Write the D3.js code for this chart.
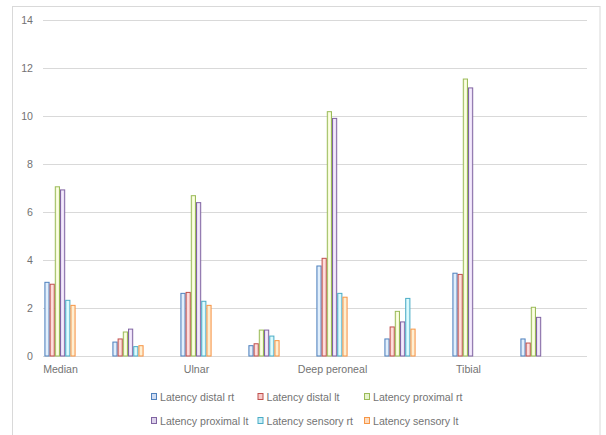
<!DOCTYPE html>
<html>
<head>
<meta charset="utf-8">
<script src="https://cdn.jsdelivr.net/npm/d3@7"></script>
<style>
  html, body { margin: 0; padding: 0; background: #fff; }
  svg { display: block; }
  text { font-family: "Liberation Sans", Arial, sans-serif; fill: #737373; }
</style>
</head>
<body>
<svg id="chart" width="606" height="435"></svg>
<script>
// ---- data ----
const categories = ["Median", "", "Ulnar", "", "Deep peroneal", "", "Tibial", ""];
const seriesNames = ["Latency distal rt", "Latency distal lt", "Latency proximal rt",
                     "Latency proximal lt", "Latency sensory rt", "Latency sensory lt"];
const latencyDistalRt   = [3.07, 0.58, 2.61, 0.43, 3.75, 0.71, 3.45, 0.71];
const latencyDistalLt   = [2.99, 0.71, 2.65, 0.51, 4.07, 1.21, 3.40, 0.54];
const latencyProximalRt = [7.05, 1.00, 6.68, 1.08, 10.18, 1.86, 11.54, 2.03];
const latencyProximalLt = [6.92, 1.12, 6.39, 1.08, 9.90, 1.42, 11.17, 1.61];
const latencySensoryRt  = [2.32, 0.39, 2.28, 0.83, 2.61, 2.40, null, null];
const latencySensoryLt  = [2.11, 0.43, 2.11, 0.64, 2.45, 1.12, null, null];
const yTicks = [0, 2, 4, 6, 8, 10, 12, 14];

const seriesValues = [latencyDistalRt, latencyDistalLt, latencyProximalRt,
                      latencyProximalLt, latencySensoryRt, latencySensoryLt];
const strokeColors = ["#4f81bd", "#c0504d", "#9bbb59", "#8064a2", "#4bacc6", "#f79646"];
const fillColors   = ["#cfdcf2", "#f7cbca", "#e6f4cc", "#ddd3eb", "#c9eef7", "#fddcc0"];

// ---- layout ----
const svg = d3.select("#chart");
const plot = { left: 43, right: 587, top: 20, bottom: 356 };
const textColor = "#737373";
const font = '"Liberation Sans", Arial, sans-serif';
const fontSize = 10.6;

svg.append("rect")
  .attr("x", 12.5).attr("y", 6.5).attr("width", 587.5).attr("height", 440)
  .attr("fill", "#fff").attr("stroke", "#d9d9d9").attr("stroke-width", 1);

const idx = categories.map((d, i) => i);
const x0 = d3.scalePoint().domain(idx).range([60, 536]);
const x1 = d3.scaleBand().domain(seriesNames).range([-15.6, 15.6]);
const y = d3.scaleLinear().domain([0, 14]).range([plot.bottom, plot.top]);

// gradients
const defs = svg.append("defs");
seriesNames.forEach((s, i) => {
  const g = defs.append("linearGradient").attr("id", "g" + i)
    .attr("x1", "0").attr("x2", "1").attr("y1", "0").attr("y2", "0");
  g.append("stop").attr("offset", "0").attr("stop-color", fillColors[i]);
  g.append("stop").attr("offset", "0.5").attr("stop-color", d3.color(fillColors[i]).brighter(0.3));
  g.append("stop").attr("offset", "1").attr("stop-color", fillColors[i]);
});

// gridlines
svg.append("g").selectAll("line").data(yTicks).join("line")
  .attr("x1", plot.left).attr("x2", plot.right)
  .attr("y1", d => Math.round(y(d)) + 0.5).attr("y2", d => Math.round(y(d)) + 0.5)
  .attr("stroke", "#d9d9d9").attr("stroke-width", 1);

// y axis labels
const yAxis = d3.axisLeft(y).tickValues(yTicks).tickSize(0).tickPadding(0);
const yg = svg.append("g").attr("transform", `translate(33,0)`).call(yAxis);
yg.select(".domain").remove();
yg.selectAll("text").attr("font-size", fontSize).style("fill", textColor).style("font-family", font);

// bars
seriesNames.forEach((s, si) => {
  const data = seriesValues[si].map((v, ci) => ({ ci, v })).filter(d => d.v != null);
  svg.append("g").selectAll("rect").data(data).join("rect")
    .attr("x", d => x0(d.ci) + x1(s) + 0.5)
    .attr("y", d => y(d.v))
    .attr("width", x1.bandwidth() - 1)
    .attr("height", d => y(0) - y(d.v))
    .attr("fill", `url(#g${si})`)
    .attr("stroke", strokeColors[si])
    .attr("stroke-width", 1);
});

// x axis labels
const xAxis = d3.axisBottom(x0).tickSize(0).tickPadding(0).tickFormat(i => categories[i]);
const xg = svg.append("g").attr("transform", `translate(0,365)`).call(xAxis);
xg.select(".domain").remove();
xg.selectAll("text").attr("font-size", fontSize).attr("dy", "0.71em")
  .style("fill", textColor).style("font-family", font);

// legend
const legendCols = d3.scalePoint().domain([0, 1, 2]).range([151, 364]);
const legendRows = d3.scalePoint().domain([0, 1]).range([397, 421]);
const lg = svg.append("g").selectAll("g").data(seriesNames).join("g")
  .attr("transform", (d, i) => `translate(${legendCols(i % 3)},${legendRows(Math.floor(i / 3))})`);
lg.append("rect").attr("x", 0.5).attr("y", -3.5).attr("width", 5).attr("height", 6)
  .attr("fill", (d, i) => fillColors[i]).attr("stroke", (d, i) => strokeColors[i]);
lg.append("text").attr("x", 9).attr("y", 0).attr("dy", "0.35em")
  .attr("font-size", fontSize).style("fill", textColor).style("font-family", font).text(d => d);
</script>
</body>
</html>
